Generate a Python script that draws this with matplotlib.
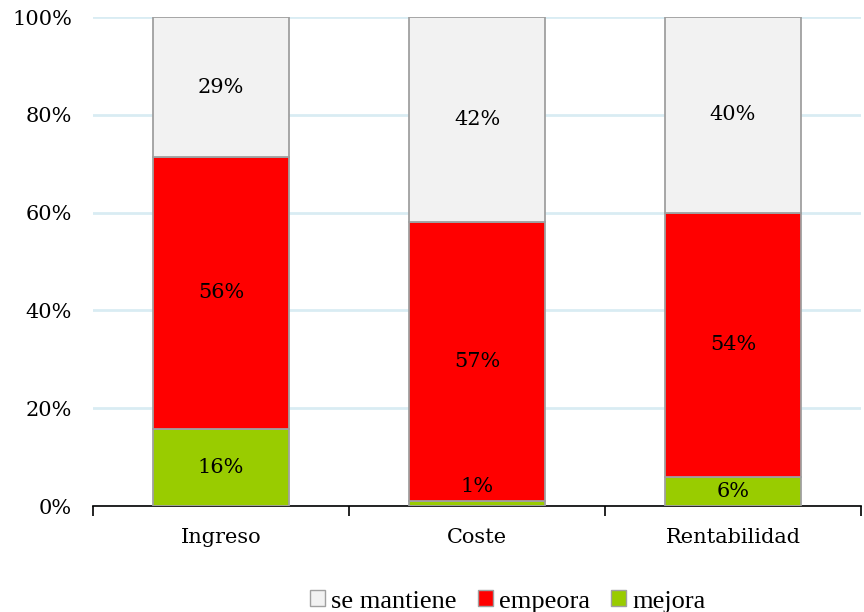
import numpy as np
import matplotlib.pyplot as plt
from matplotlib.patches import Patch

categories = ["Ingreso", "Coste", "Rentabilidad"]
mejora = [16, 1, 6]
empeora = [56, 57, 54]
se_mantiene = [29, 42, 40]

colors = {"mejora": "#99cc00", "empeora": "#ff0000", "se mantiene": "#f2f2f2"}

tot = np.array(mejora) + np.array(empeora) + np.array(se_mantiene)
m = np.array(mejora) / tot * 100
e = np.array(empeora) / tot * 100
s = np.array(se_mantiene) / tot * 100

fig = plt.figure(figsize=(8.64, 6.12), dpi=100)
ax = fig.add_axes([0.1076, 0.1732, 0.889, 0.799])

x = np.arange(len(categories))
w = 0.53
edge = dict(edgecolor="#a0a0a0", linewidth=1.3, zorder=3)
ax.bar(x, m, w, color=colors["mejora"], **edge)
ax.bar(x, e, w, bottom=m, color=colors["empeora"], **edge)
ax.bar(x, s, w, bottom=m + e, color=colors["se mantiene"], **edge)

lbl_font = dict(family="DejaVu Serif", fontsize=15, ha="center", va="center", zorder=4)
for i in range(len(categories)):
    # very thin segment: label sits a bit higher, as in the original
    y_m = m[i] / 2 if m[i] > 3 else 4
    ax.text(x[i], y_m, f"{mejora[i]}%", **lbl_font)
    ax.text(x[i], m[i] + e[i] / 2, f"{empeora[i]}%", **lbl_font)
    ax.text(x[i], m[i] + e[i] + s[i] / 2, f"{se_mantiene[i]}%", **lbl_font)

ax.set_xlim(-0.5, 2.5)
ax.set_ylim(0, 100)
ax.set_yticks(range(0, 101, 20))
ax.set_yticklabels([f"{v}%" for v in range(0, 101, 20)], family="DejaVu Serif", fontsize=15)
ax.yaxis.grid(True, color="#d9ecf3", linewidth=2, zorder=0)
ax.set_axisbelow(True)
ax.tick_params(axis="y", length=0, pad=15)

ax.set_xticks(x)
ax.set_xticklabels(categories, family="DejaVu Serif", fontsize=15)
ax.set_xticks([-0.5, 0.5, 1.5, 2.5], minor=True)
ax.tick_params(axis="x", which="major", length=0, pad=16)
ax.tick_params(axis="x", which="minor", length=7, width=1.2, color="black")

for sp in ["top", "right", "left"]:
    ax.spines[sp].set_visible(False)
ax.spines["bottom"].set_linewidth(1.2)

handles = [Patch(facecolor=colors[k], edgecolor="#a0a0a0", label=k)
           for k in ["se mantiene", "empeora", "mejora"]]
fig.legend(handles=handles, loc="lower center", bbox_to_anchor=(0.588, -0.04), ncol=3,
           frameon=False, prop=dict(family="Liberation Serif", size=19),
           handlelength=0.55, handleheight=0.55, handletextpad=0.25, columnspacing=0.8)

fig.savefig("out.png", dpi=100)
